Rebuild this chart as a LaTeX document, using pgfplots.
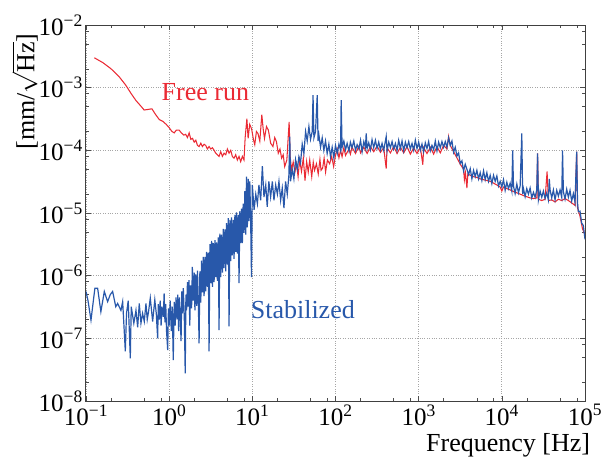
\documentclass[border=0pt]{standalone}
\usepackage{fontspec}
\setmainfont{Liberation Serif}
\usepackage{pgfplots}
\pgfplotsset{compat=1.18}
\definecolor{fr}{RGB}{234,42,52}
\definecolor{st}{RGB}{40,88,170}
\begin{document}
\begin{tikzpicture}
\begin{axis}[
  name=ax,
  xmode=log, ymode=log,
  scale only axis, width=499pt, height=376pt,
  xmin=0.1, xmax=1e5, ymin=1e-8, ymax=1e-2,
  font=\fontsize{25}{30}\selectfont,
  xtick={0.1,1,10,100,1000,10000,100000},
  xticklabels={10\textsuperscript{\textminus1},10\textsuperscript{0},10\textsuperscript{1},10\textsuperscript{2},10\textsuperscript{3},10\textsuperscript{4},10\textsuperscript{5}},
  ytick={1e-8,1e-7,1e-6,1e-5,1e-4,1e-3,1e-2},
  yticklabels={10\textsuperscript{\textminus8},10\textsuperscript{\textminus7},10\textsuperscript{\textminus6},10\textsuperscript{\textminus5},10\textsuperscript{\textminus4},10\textsuperscript{\textminus3},10\textsuperscript{\textminus2}},
  minor xtick={0.2,0.5,0.8,2,5,8,20,50,80,200,500,800,2000,5000,8000,20000,50000,80000},
  minor ytick={2e-8,5e-8,8e-8,2e-7,5e-7,8e-7,2e-6,5e-6,8e-6,2e-5,5e-5,8e-5,2e-4,5e-4,8e-4,2e-3,5e-3,8e-3},
  tick align=inside,
  major tick length=5pt, minor tick length=3pt,
  every tick/.style={black!70, line width=0.6pt},
  grid=major,
  major grid style={dotted, black!35, line width=0.7pt},
  axis line style={black!75, line width=1pt},
  yticklabel style={inner xsep=3pt},
  xlabel={Frequency [Hz]},
  ylabel={[mm/\smash{$\sqrt{\mbox{Hz}}$}]},
  label style={font=\fontsize{26}{30}\selectfont},
  xlabel style={at={(axis description cs:0.846,-0.1348)}, anchor=base},
  ylabel style={at={(axis description cs:-0.118,0.823)}, anchor=center, inner sep=0pt},
]
\addplot[fr, line width=1.05pt] coordinates {
(0.126,3.0e-3) (0.16,2.5e-3) (0.2,2.0e-3) (0.25,1.5e-3) (0.3,1.1e-3) (0.35,8e-4) (0.4,6.2e-4) (0.45,5.2e-4) (0.5,4.4e-4) (0.56,4.5e-4) (0.62,4.6e-4) (0.68,3.8e-4) (0.76,3.1e-4) (0.84,2.9e-4) (0.92,2.6e-4) (1.0,2.3e-4) (1.08,2.0e-4) (1.15,1.9e-4) (1.22,2.1e-4) (1.32,2.1e-4) (1.4,1.9e-4) (1.5,1.75e-4) (1.58,1.8e-4) (1.66,1.6e-4) (1.74,1.9e-4) (1.82,1.5e-4) (1.91,1.55e-4) (2.0,1.35e-4) (2.09,1.45e-4) (2.19,1.2e-4) (2.29,1.15e-4) (2.4,1.3e-4) (2.51,1.15e-4) (2.63,1.25e-4) (2.75,1.2e-4) (2.88,1.05e-4) (3.02,1.15e-4) (3.16,1.05e-4) (3.31,1.1e-4) (3.47,1.0e-4) (3.63,9e-5) (3.8,8.5e-5) (3.98,8e-5) (4.17,9.5e-5) (4.37,8e-5) (4.57,9e-5) (4.79,8.5e-5) (5.01,1.05e-4) (5.25,9e-5) (5.5,1.0e-4) (5.75,8e-5) (6.03,7.5e-5) (6.31,8.5e-5) (6.61,7e-5) (6.92,8e-5) (7.24,6.6e-5) (7.59,8e-5) (7.94,7e-5)
(8.2,1.6e-4) (8.6,3.2e-4) (8.9,1.55e-4) (9.3,2.6e-4) (9.8,2.2e-4) (10.3,1.5e-4) (10.7,1.23e-4) (11.2,2.0e-4) (11.7,1.85e-4) (12.3,1.4e-4) (13.0,3.7e-4) (13.5,2.2e-4) (14.0,1.55e-4) (14.8,2.4e-4) (15.6,2.1e-4) (16.6,1.3e-4) (17.7,1.15e-4) (18.6,1.6e-4) (19.5,1.37e-4) (20.5,9e-5) (21.5,1.05e-4) (22.5,7.5e-5) (23.5,8.5e-5) (24.5,5.5e-5) (26,7e-5) (27.7,2.85e-4) (28.5,8e-5) (29.6,4.9e-5) (31,6.5e-5) (32.5,4.5e-5) (34,6.1e-5) (35.5,3.8e-5) (37,7e-5) (39,4.6e-5) (41,7.5e-5) (43,3.3e-5) (45,6.6e-5) (47,4.5e-5) (49,7e-5) (51.8,3.8e-5) (54,6.5e-5) (56,4.8e-5) (59,6.1e-5) (62,4.2e-5) (65,7.2e-5) (67,4.8e-5) (70,5.2e-5) (73,7.5e-5) (76,4.5e-5) (80,7e-5) (85,6.1e-5) (90,8e-5) (95,5.5e-5)
(100,8.3e-5) (105,1.05e-4) (110,7.6e-5) (115,1.0e-4) (120,7.9e-5) (126,1.1e-4) (132,8.3e-5) (145,1.05e-4) (151,8.7e-5) (158,1.12e-4) (174,8.9e-5) (191,1.17e-4) (200,9.1e-5) (219,1.12e-4) (240,8.9e-5) (263,1.15e-4) (288,9.5e-5) (316,1.17e-4) (347,9.3e-5) (380,1.1e-4) (407,5.1e-5) (417,1.1e-4) (457,9.1e-5) (501,1.15e-4) (550,8.9e-5) (603,1.12e-4) (661,9.1e-5) (724,1.15e-4) (794,8.7e-5) (871,1.1e-4) (955,8.9e-5) (1047,1.12e-4) (1122,5.9e-5) (1148,1.1e-4) (1259,8.9e-5) (1380,1.12e-4) (1514,8.7e-5) (1660,1.15e-4) (1820,9.1e-5) (1995,1.2e-4) (2188,1.05e-4) (2291,1.66e-4) (2399,1.2e-4) (2630,9.5e-5) (2884,7.6e-5) (3162,6.0e-5) (3467,5.0e-5) (3548,3.4e-5) (3650,4.4e-5) (3802,2.5e-5) (3900,4.2e-5) (4169,4.0e-5) (4571,3.8e-5) (5012,3.7e-5) (5495,3.5e-5) (6026,3.4e-5) (6607,3.3e-5) (7244,3.2e-5) (7943,3.0e-5) (8710,2.8e-5) (9550,2.6e-5) (1e4,2.24e-5) (1.047e4,2.6e-5) (1.148e4,2.45e-5) (1.259e4,2.34e-5) (1.38e4,2.2e-5) (1.514e4,2.1e-5) (1.66e4,2.0e-5) (1.82e4,1.9e-5) (1.995e4,1.82e-5) (2.188e4,1.74e-5) (2.399e4,1.7e-5) (2.63e4,1.74e-5) (2.69e4,8.9e-5) (2.754e4,1.66e-5) (3.02e4,1.58e-5) (3.311e4,1.66e-5) (3.5e4,4.6e-5) (3.631e4,1.58e-5) (3.981e4,1.62e-5) (4.365e4,1.5e-5) (4.786e4,1.66e-5) (5.248e4,1.58e-5) (5.754e4,1.7e-5) (6.31e4,1.58e-5) (6.918e4,1.45e-5) (7.586e4,1.32e-5) (7.943e4,9.5e-5) (8.13e4,1.2e-5) (8.71e4,8.9e-6) (9.33e4,5.6e-6) (1e5,4.5e-6)
};
\addplot[st, line width=1.2pt] coordinates {
(0.1,5.6e-7) (0.1057,4.0e-7) (0.1148,1.95e-7) (0.124,4.5e-7) (0.128,6.3e-7) (0.138,6.3e-7) (0.151,2.66e-7) (0.166,5.6e-7) (0.182,3.85e-7) (0.196,5.0e-7) (0.209,5.6e-7) (0.228,3.2e-7) (0.24,3.6e-7) (0.263,2.8e-7) (0.276,3.85e-7) (0.297,6.2e-8) (0.307,2.5e-7) (0.322,4.0e-7) (0.341,4.8e-8) (0.35,3.2e-7) (0.376,1.74e-7) (0.399,2.8e-7) (0.418,1.5e-7) (0.437,3.6e-7) (0.458,1.74e-7) (0.479,2.5e-7) (0.502,1.86e-7) (0.526,3.6e-7) (0.545,2.0e-7) (0.565,2.66e-7) (0.593,4.4e-7) (0.633,1.86e-7) (0.672,4.1e-7) (0.70,2.5e-7) (0.727,1.0e-7) (0.74,3.5e-7) (0.76,2.0e-7) (0.78,4.0e-7) (0.80,1.6e-7) (0.82,3.2e-7) (0.85,2.2e-7) (0.87,5.2e-7) (0.89,1.8e-7) (0.91,3.5e-7) (0.93,1.3e-7) (0.96,6.5e-8) (0.98,3.0e-7) (1.00,1.6e-7) (1.03,4.0e-7) (1.06,1.3e-7) (1.09,3.2e-7) (1.12,4.5e-8) (1.15,3.8e-7) (1.18,1.6e-7) (1.21,4.5e-7) (1.24,2.0e-7) (1.27,5.0e-7) (1.30,1.3e-7) (1.33,4.5e-7) (1.36,2.2e-7) (1.39,9e-8) (1.42,5.6e-7) (1.45,2.5e-7) (1.48,6.3e-7) (1.52,2.2e-7) (1.56,2.75e-8) (1.59,5.0e-7) (1.62,2.8e-7) (1.66,7.9e-7) (1.70,3.2e-7) (1.73,8.5e-7) (1.77,1.6e-7) (1.81,7.0e-7) (1.86,3.0e-7) (1.90,1.38e-6) (1.95,4.0e-7)
(2.00,1.12e-6) (2.04,2.8e-7) (2.09,1.05e-6) (2.14,3.3e-7) (2.19,1.2e-6) (2.24,4.0e-7) (2.29,8.3e-8) (2.34,1.17e-6) (2.40,3.7e-7) (2.45,1.74e-6) (2.51,5.4e-7) (2.57,2.0e-6) (2.63,4.7e-7) (2.69,2.0e-6) (2.75,5.6e-7) (2.82,2.4e-6) (2.88,6.6e-7) (2.95,2.34e-6) (3.02,6.2e-8) (3.09,3.2e-6) (3.16,7.6e-7) (3.24,3.6e-6) (3.31,6.6e-7) (3.39,3.3e-6) (3.47,7.9e-7) (3.55,3.7e-6) (3.63,9.5e-7) (3.72,3.4e-6) (3.80,8.3e-7) (3.89,4.1e-6) (3.98,1.35e-7) (4.07,4.7e-6) (4.17,9.5e-7) (4.27,4.5e-6) (4.37,1.12e-6) (4.47,5.6e-6) (4.57,1.32e-6) (4.68,5.5e-6) (4.79,1.17e-6) (4.90,6.9e-6) (5.01,1.5e-6) (5.13,8.3e-6) (5.25,1.55e-7) (5.37,7.8e-6) (5.50,1.7e-6) (5.62,8.5e-6) (5.75,2.1e-6) (5.89,7.8e-6) (6.03,1.86e-6) (6.17,9.3e-6) (6.31,2.4e-6) (6.46,1.02e-5) (6.61,2.24e-6) (6.76,9.3e-6) (6.92,7.6e-7) (7.08,1.07e-5) (7.24,3.3e-6) (7.41,1.17e-5) (7.59,3.3e-6) (7.76,1.41e-5) (7.94,4.8e-6) (8.13,2.24e-5) (8.32,4.5e-6) (8.51,3.8e-5) (8.71,5.9e-6) (8.91,3.5e-5) (9.12,7.4e-6) (9.33,3.2e-5) (9.55,7.4e-6) (9.77,9.5e-7) (10,2.8e-5)
(10.5,1.12e-5) (11,2.0e-5) (11.5,1.4e-5) (12,2.8e-5) (12.6,1.6e-5) (13.2,5.6e-5) (13.8,1.8e-5) (14.5,2.8e-5) (15.1,1.26e-5) (15.8,3.2e-5) (16.6,1.8e-5) (17.4,3.2e-5) (18.2,1.6e-5) (19.1,2.8e-5) (20,2.0e-5) (20.9,3.2e-5) (21.9,1.6e-5) (22.9,2.5e-5) (24,1.2e-5) (25.1,3.2e-5) (26.3,2.0e-5) (27.5,4.0e-5) (28.2,1.66e-4) (28.8,3.2e-5) (30.2,5.0e-5) (31.6,3.5e-5) (33.1,7.1e-5) (34.7,5.0e-5) (36.3,7.9e-5) (38,6.3e-5) (39.8,1.26e-4) (41.7,8.9e-5) (43.7,2.0e-4) (45.7,1.41e-4) (47.9,2.4e-4) (50.1,1.5e-4) (52.5,2.0e-4) (53.7,7.6e-4) (55,1.58e-4) (57.5,2.0e-4) (60.3,7.6e-4) (61.7,1.41e-4) (63.1,1.78e-4) (66.1,1.12e-4) (69.2,1.58e-4) (72.4,1.0e-4) (75.9,1.41e-4) (79.4,8.9e-5) (83.2,1.26e-4) (87.1,7.9e-5) (91.2,1.12e-4) (95.5,7.6e-5) (100,1.2e-4) (105,8.9e-5) (110,1.26e-4) (115,1.0e-4) (117,6.3e-4) (120,1.12e-4) (126,1.41e-4)
(132,1.02e-4) (138,1.29e-4) (145,9.8e-5) (151,1.35e-4) (158,1.1e-4) (166,1.41e-4) (174,1.0e-4) (182,1.23e-4) (191,1.05e-4) (200,1.45e-4) (209,9.5e-5) (219,1.38e-4) (229,1.12e-4) (234,1.86e-4) (240,1.07e-4) (251,1.32e-4) (263,1.02e-4) (275,1.48e-4) (288,1.1e-4) (302,1.45e-4) (316,1.07e-4) (331,1.35e-4) (347,1.02e-4) (363,1.29e-4) (380,1.0e-4) (398,1.41e-4) (407,1.66e-4) (417,9.8e-5) (437,1.35e-4) (457,1.1e-4) (479,1.38e-4) (501,1.05e-4) (525,1.29e-4) (550,1.0e-4) (575,1.45e-4) (603,1.07e-4) (631,1.41e-4) (661,9.8e-5) (692,1.35e-4) (724,1.1e-4) (759,1.38e-4) (794,1.05e-4) (832,1.29e-4) (871,1.0e-4) (912,1.45e-4) (955,1.07e-4) (1000,1.35e-4) (1047,1.0e-4) (1096,1.26e-4) (1148,9.5e-5) (1202,1.32e-4) (1259,1.07e-4) (1318,1.38e-4) (1380,9.8e-5) (1445,1.2e-4) (1514,1.02e-4) (1585,1.41e-4) (1660,9.8e-5) (1738,1.35e-4) (1820,1.1e-4) (1905,1.38e-4) (1995,1.12e-4) (2089,1.38e-4) (2188,1.12e-4) (2291,1.58e-4) (2399,1.2e-4) (2512,1.41e-4) (2630,9.3e-5) (2754,1.12e-4) (2884,8.1e-5) (3020,9.1e-5) (3162,6.2e-5) (3311,6.8e-5) (3467,4.7e-5) (3631,6.0e-5) (3802,5.0e-5) (3981,4.1e-5) (4169,5.1e-5) (4365,3.5e-5) (4571,4.8e-5) (4786,3.8e-5) (5012,4.8e-5) (5248,3.5e-5) (5495,4.4e-5) (5754,3.3e-5) (6026,4.7e-5) (6310,3.4e-5) (6607,4.4e-5) (6918,3.2e-5) (7244,4.0e-5) (7586,2.95e-5) (7943,4.0e-5) (8318,3.2e-5) (8710,3.9e-5) (9120,2.7e-5) (9550,3.2e-5)
(1.0e4,2.6e-5) (1.047e4,3.4e-5) (1.096e4,2.3e-5) (1.148e4,3.1e-5) (1.202e4,2.45e-5) (1.259e4,3.0e-5) (1.318e4,2.24e-5) (1.35e4,1.0e-4) (1.38e4,2.7e-5) (1.445e4,2.04e-5) (1.514e4,2.9e-5) (1.585e4,2.1e-5) (1.66e4,2.7e-5) (1.738e4,1.86e-4) (1.778e4,2.0e-5) (1.82e4,2.45e-5) (1.905e4,1.82e-5) (1.995e4,2.45e-5) (2.089e4,2.0e-5) (2.188e4,2.5e-5) (2.291e4,1.74e-5) (2.399e4,2.14e-5) (2.512e4,1.78e-5) (2.63e4,2.34e-5) (2.69e4,8.9e-5) (2.754e4,1.62e-5) (2.884e4,2.24e-5) (3.02e4,1.78e-5) (3.162e4,2.24e-5) (3.311e4,1.7e-5) (3.467e4,2.1e-5) (3.631e4,1.62e-5) (3.72e4,3.5e-5) (3.802e4,2.34e-5) (3.981e4,1.74e-5) (4.169e4,2.34e-5) (4.365e4,1.62e-5) (4.571e4,2.3e-5) (4.786e4,1.86e-5) (5.012e4,2.34e-5) (5.248e4,1.78e-5) (5.37e4,1.0e-4) (5.495e4,2.2e-5) (5.754e4,1.66e-5) (6.026e4,2.4e-5) (6.31e4,1.78e-5) (6.607e4,2.3e-5) (6.918e4,1.55e-5) (7.244e4,2.04e-5) (7.586e4,1.48e-5) (7.943e4,9.5e-5) (8.13e4,1.45e-5) (8.318e4,1.05e-5) (8.71e4,1.07e-5) (9.12e4,6.9e-6) (9.55e4,6.3e-6) (1e5,3.8e-6)
};
\node[anchor=base west, inner sep=0pt, text=fr, font=\fontsize{26}{30}\selectfont] at (axis cs:0.808,6.35e-4) {Free run};
\node[anchor=base west, inner sep=0pt, text=st, font=\fontsize{26}{30}\selectfont] at (axis cs:9.54,2.09e-7) {Stabilized};
\end{axis}
\pgfresetboundingbox
\path ([shift={(-86pt,-56pt)}]ax.south west) rectangle ++(601pt,457pt);
\end{tikzpicture}
\end{document}
